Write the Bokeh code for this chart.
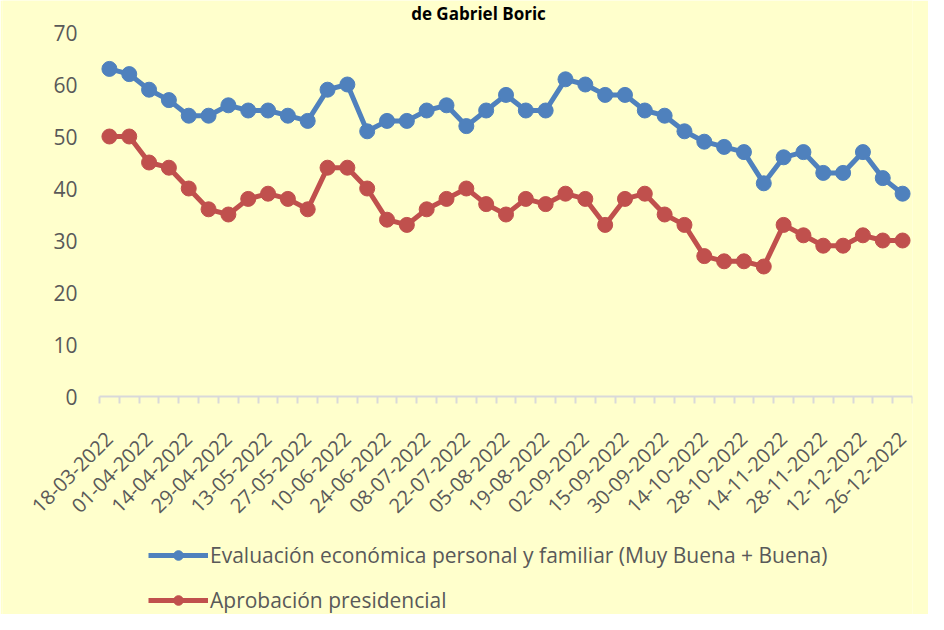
import math
from bokeh.plotting import figure
from bokeh.models import FixedTicker, Legend, LegendItem, Label, ColumnDataSource
from bokeh.embed import file_html
from bokeh.resources import INLINE

# ---- data ----
tick_labels = ["18-03-2022", "01-04-2022", "14-04-2022", "29-04-2022", "13-05-2022",
               "27-05-2022", "10-06-2022", "24-06-2022", "08-07-2022", "22-07-2022",
               "05-08-2022", "19-08-2022", "02-09-2022", "15-09-2022", "30-09-2022",
               "14-10-2022", "28-10-2022", "14-11-2022", "28-11-2022", "12-12-2022",
               "26-12-2022"]
evaluacion = [63, 62, 59, 57, 54, 54, 56, 55, 55, 54, 53, 59, 60, 51, 53, 53, 55, 56, 52, 55,
              58, 55, 55, 61, 60, 58, 58, 55, 54, 51, 49, 48, 47, 41, 46, 47, 43, 43, 47, 42, 39]
aprobacion = [50, 50, 45, 44, 40, 36, 35, 38, 39, 38, 36, 44, 44, 40, 34, 33, 36, 38, 40, 37,
              35, 38, 37, 39, 38, 33, 38, 39, 35, 33, 27, 26, 26, 25, 33, 31, 29, 29, 31, 30, 30]
y_ticks = [0, 10, 20, 30, 40, 50, 60, 70]
name_eval = "Evaluación económica personal y familiar (Muy Buena + Buena)"
name_apro = "Aprobación presidencial"
title_text = "de Gabriel Boric"

n = len(evaluacion)
idx = list(range(n))
label_idx = list(range(0, n, 2))

BG = "#FFFFCC"
BLUE = "#4F81BD"
RED = "#C0504D"
FONT = "Open Sans"
TXT = "#595959"
FS = "21px"

# layout: the plotting area (0..70, 41 categories) is 813x364 px; the frame is
# extended on every side so that the axis labels, title and legend fit inside it
Y_MAX = 70
PX_Y = 364 / Y_MAX
PX_X = 813 / n
y_top = Y_MAX + 32 / PX_Y
y_bottom = -218 / PX_Y
x_left = -0.5 - 97 / PX_X
x_right = n - 0.5

p = figure(width=928, height=614, output_backend="svg", toolbar_location=None,
           x_range=(x_left, x_right), y_range=(y_bottom, y_top),
           background_fill_color=BG, border_fill_color=BG,
           min_border_left=2, min_border_right=16, min_border_top=0, min_border_bottom=0)
p.outline_line_color = None
p.grid.grid_line_color = None

title = Label(x=x_left + 476 / PX_X, y=y_top - 13 / PX_Y, text=title_text,
              text_align="center", text_baseline="middle", text_font=FONT,
              text_font_size="17px", text_font_style="bold", text_color="#000000")
p.add_layout(title)

src = ColumnDataSource(dict(x=idx, ev=evaluacion, ap=aprobacion))
l1 = p.line("x", "ev", source=src, line_color=BLUE, line_width=5)
c1 = p.scatter("x", "ev", source=src, size=15, fill_color=BLUE, line_color=BLUE)
l2 = p.line("x", "ap", source=src, line_color=RED, line_width=5)
c2 = p.scatter("x", "ap", source=src, size=15, fill_color=RED, line_color=RED)

# x axis (drawn at value 0)
xa = p.xaxis[0]
xa.fixed_location = 0
xa.bounds = (-0.5, n - 0.5)
xa.ticker = FixedTicker(ticks=label_idx, minor_ticks=[i - 0.5 for i in range(n + 1)])
xa.major_label_overrides = {i: lab for i, lab in zip(label_idx, tick_labels)}
xa.major_label_orientation = math.pi / 4
xa.major_tick_out = 0
xa.major_tick_in = 0
xa.minor_tick_out = 7
xa.minor_tick_in = 0
xa.minor_tick_line_color = "#D9D9D9"
xa.minor_tick_line_width = 2
xa.axis_line_color = "#D9D9D9"
xa.axis_line_width = 2
xa.major_label_text_font = FONT
xa.major_label_text_font_size = "20px"
xa.major_label_text_color = TXT
xa.major_label_standoff = 32

# y axis (drawn at the left edge of the categories)
ya = p.yaxis[0]
ya.fixed_location = -0.5
ya.bounds = (0, Y_MAX)
ya.ticker = FixedTicker(ticks=y_ticks)
ya.axis_line_color = None
ya.major_tick_line_color = None
ya.minor_tick_line_color = None
ya.major_label_text_font = FONT
ya.major_label_text_font_size = FS
ya.major_label_text_color = TXT
ya.major_label_standoff = 16

legend = Legend(items=[LegendItem(label=name_eval, renderers=[l1, c1]),
                       LegendItem(label=name_apro, renderers=[l2, c2])],
                orientation="vertical", location=(146, 0),
                background_fill_alpha=0, border_line_color=None,
                label_text_font=FONT, label_text_font_size=FS, label_text_color=TXT,
                glyph_width=60, glyph_height=24, spacing=17, padding=0, margin=0,
                label_standoff=2)
p.add_layout(legend, "center")

open("out.html", "w").write(file_html(p, INLINE))
